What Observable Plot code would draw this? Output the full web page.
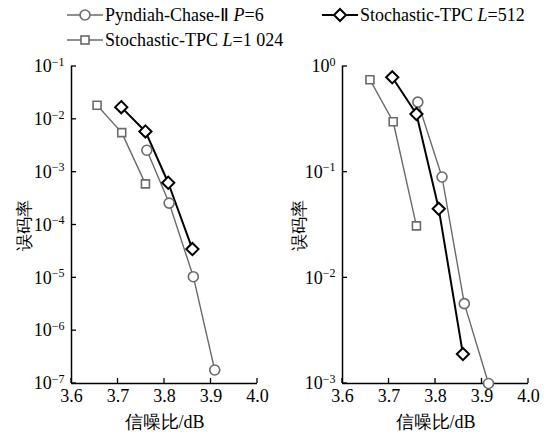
<!DOCTYPE html>
<html><head><meta charset="utf-8">
<script src="https://cdn.jsdelivr.net/npm/d3@7"></script>
<script src="https://cdn.jsdelivr.net/npm/@observablehq/plot@0.6"></script>
<style>
body{margin:0;background:#fff;}
#wrap{position:relative;width:545px;height:432px;overflow:hidden;font-family:"Liberation Serif","Times New Roman",serif;color:#000;}
.panel{position:absolute;top:0;}
.leg{position:absolute;display:flex;align-items:center;font-size:18px;white-space:nowrap;line-height:1;}
.leg svg{margin-right:2px;}
</style></head><body><div id="wrap"></div>
<script>
// x values (信噪比/dB)
const xTicks = [3.6, 3.7, 3.8, 3.9, 4.0];
// Left panel
const leftYTicks = [1e-1, 1e-2, 1e-3, 1e-4, 1e-5, 1e-6, 1e-7];
const snrChaseL = [3.762, 3.810, 3.862, 3.908];
const berChaseL = [2.6e-3, 2.6e-4, 1.05e-5, 1.8e-7];
const snr512L = [3.707, 3.759, 3.808, 3.860];
const ber512L = [1.7e-2, 5.9e-3, 6.3e-4, 3.5e-5];
const snr1024L = [3.655, 3.708, 3.759];
const ber1024L = [1.85e-2, 5.6e-3, 6.0e-4];
// Right panel
const rightYTicks = [1e0, 1e-1, 1e-2, 1e-3];
const snrChaseR = [3.762, 3.814, 3.862, 3.914];
const berChaseR = [0.46, 0.09, 5.7e-3, 1.0e-3];
const snr512R = [3.707, 3.759, 3.807, 3.859];
const ber512R = [0.79, 0.355, 0.045, 1.9e-3];
const snr1024R = [3.659, 3.709, 3.759];
const ber1024R = [0.75, 0.30, 0.031];

const seriesNames = ["Pyndiah-Chase-Ⅱ P=6", "Stochastic-TPC L=512", "Stochastic-TPC L=1 024"];
const gray = "#6a6a6a";
const serif = "Liberation Serif, Times New Roman, serif";

function rows(xs, ys) { return xs.map((x, i) => ({x, y: ys[i]})); }

function panel(yDomain, yTicks, data, width, ml, mr, yLabelOffset) {
  const [chase, s512, s1024] = data;
  const svg = Plot.plot({
    width, height: 432, marginTop: 66, marginBottom: 49, marginLeft: ml, marginRight: mr,
    style: {fontFamily: serif, fontSize: "18px", background: "transparent", color: "black", overflow: "visible"},
    x: {domain: [3.6, 4.0], ticks: xTicks, tickFormat: d => d.toFixed(1), tickSize: 0, tickPadding: 6,
        label: "信噪比/dB", labelAnchor: "center", labelArrow: "none", labelOffset: 44},
    y: {type: "log", domain: yDomain, ticks: yTicks, tickSize: 0, tickPadding: 7,
        tickFormat: d => "10|" + Math.round(Math.log10(d)),
        label: "误码率", labelAnchor: "center", labelArrow: "none", labelOffset: yLabelOffset},
    marks: [
      Plot.ruleX([3.6], {stroke: "black", strokeWidth: 1.5}),
      Plot.ruleY([yDomain[0]], {stroke: "black", strokeWidth: 1.5}),
      Plot.line(s1024, {x: "x", y: "y", stroke: gray, strokeWidth: 1.4}),
      Plot.line(chase, {x: "x", y: "y", stroke: gray, strokeWidth: 1.4}),
      Plot.line(s512, {x: "x", y: "y", stroke: "black", strokeWidth: 2}),
      Plot.dot(s1024, {x: "x", y: "y", symbol: "square", r: 4.5, stroke: gray, strokeWidth: 1.6, fill: "white"}),
      Plot.dot(chase, {x: "x", y: "y", symbol: "circle", r: 5, stroke: gray, strokeWidth: 1.6, fill: "white"}),
      Plot.dot(s512, {x: "x", y: "y", symbol: "diamond2", r: 5.5, stroke: "black", strokeWidth: 2, fill: "white"})
    ]
  });
  // inward ticks placed through the plot's own scales
  const sx = svg.scale("x"), sy = svg.scale("y");
  const g = d3.select(svg).append("g").attr("aria-label", "inward ticks").attr("stroke", "black").attr("stroke-width", 1.3);
  const x0 = sx.apply(3.6), y0 = sy.apply(yDomain[0]);
  for (const t of yTicks) { const y = sy.apply(t); g.append("line").attr("x1", x0).attr("x2", x0 + 5).attr("y1", y).attr("y2", y); }
  for (const t of xTicks) { const x = sx.apply(t); g.append("line").attr("x1", x).attr("x2", x).attr("y1", y0).attr("y2", y0 - 5); }
  // superscript exponents on y tick labels
  d3.select(svg).selectAll('g[aria-label="y-axis tick label"] text').each(function() {
    const t = d3.select(this);
    const [base, exp] = t.text().split("|");
    t.text(null);
    t.append("tspan").text(base);
    t.append("tspan").attr("dy", "-0.55em").style("font-size", "12px").text(exp === "0" ? "0" : "−" + exp.replace("-", ""));
  });
  d3.select(svg).selectAll("text, tspan").style("font-family", serif).attr("fill", "black");
  d3.select(svg).selectAll('g[aria-label="y-axis label"] text').style("font-size", "17px");
  return svg;
}

const wrap = document.getElementById("wrap");
const left = panel([1e-7, 1e-1], leftYTicks,
  [rows(snrChaseL, berChaseL), rows(snr512L, ber512L), rows(snr1024L, ber1024L)], 270, 71, 13, 54);
left.classList.add("panel"); left.style.left = "0px";
wrap.appendChild(left);
const right = panel([1e-3, 1e0], rightYTicks,
  [rows(snrChaseR, berChaseR), rows(snr512R, ber512R), rows(snr1024R, ber1024R)], 275, 72, 17, 50);
right.classList.add("panel"); right.style.left = "270px";
wrap.appendChild(right);

// Legend
function sample(symbol, color, sw) {
  const s = d3.create("svg").attr("width", 36).attr("height", 16);
  s.append("line").attr("x1", 0).attr("x2", 36).attr("y1", 8).attr("y2", 8).attr("stroke", color).attr("stroke-width", sw);
  if (symbol === "circle") s.append("circle").attr("cx", 18).attr("cy", 8).attr("r", 5).attr("fill", "white").attr("stroke", color).attr("stroke-width", 1.6);
  if (symbol === "square") s.append("rect").attr("x", 14).attr("y", 4).attr("width", 8).attr("height", 8).attr("fill", "white").attr("stroke", color).attr("stroke-width", 1.6);
  if (symbol === "diamond") s.append("path").attr("d", "M18,2L24,8L18,14L12,8Z").attr("fill", "white").attr("stroke", color).attr("stroke-width", 2);
  return s.node();
}
function legendItem(left, top, symbol, color, sw, name) {
  const d = document.createElement("div");
  d.className = "leg"; d.style.left = left + "px"; d.style.top = top + "px";
  d.appendChild(sample(symbol, color, sw));
  const span = document.createElement("span");
  const m = name.match(/^(.*?)([PL])(=.*)$/);
  span.innerHTML = m[1] + "<i>" + m[2] + "</i>" + m[3];
  d.appendChild(span);
  wrap.appendChild(d);
}
legendItem(67, 6, "circle", gray, 1.4, seriesNames[0]);
legendItem(322, 6, "diamond", "black", 2, seriesNames[1]);
legendItem(67, 31, "square", gray, 1.4, seriesNames[2]);
</script>
</body></html>
